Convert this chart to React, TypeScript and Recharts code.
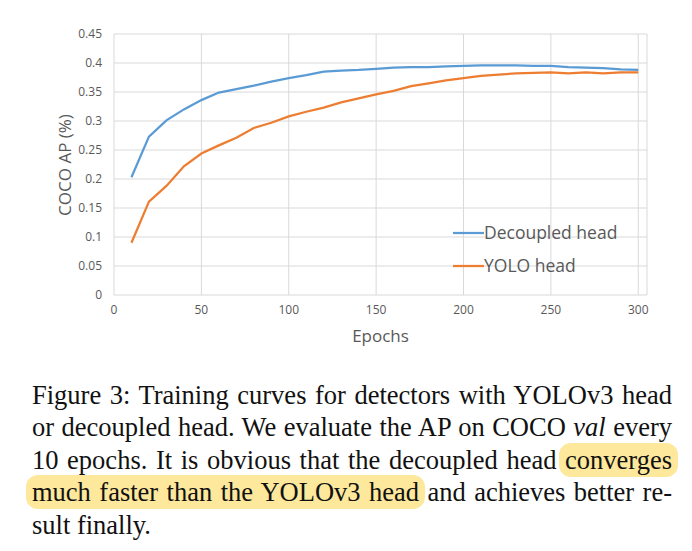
import { CartesianGrid, Label, Legend, Line, LineChart, XAxis, YAxis } from 'recharts';

const epochs = [
  10, 20, 30, 40, 50, 60, 70, 80, 90, 100, 110, 120, 130, 140, 150, 160, 170, 180, 190, 200,
  210, 220, 230, 240, 250, 260, 270, 280, 290, 300,
];

const decoupledHead = [
  0.203, 0.273, 0.301, 0.32, 0.336, 0.349, 0.355, 0.361, 0.368, 0.374, 0.379, 0.385, 0.387,
  0.388, 0.39, 0.392, 0.393, 0.393, 0.394, 0.395, 0.396, 0.396, 0.396, 0.395, 0.395, 0.393,
  0.392, 0.391, 0.389, 0.388,
];

const yoloHead = [
  0.09, 0.161, 0.188, 0.222, 0.244, 0.258, 0.271, 0.288, 0.297, 0.308, 0.316, 0.323, 0.332,
  0.339, 0.346, 0.352, 0.36, 0.365, 0.37, 0.374, 0.378, 0.38, 0.382, 0.383, 0.384, 0.382,
  0.384, 0.382, 0.384, 0.384,
];

const xTicks = [0, 50, 100, 150, 200, 250, 300];
const yTicks = [0, 0.05, 0.1, 0.15, 0.2, 0.25, 0.3, 0.35, 0.4, 0.45];

const seriesNames = ['Decoupled head', 'YOLO head'];
const seriesColors = ['#5b9bd5', '#ed7d31'];

const data = epochs.map((epoch, i) => ({
  epoch,
  decoupled: decoupledHead[i],
  yolo: yoloHead[i],
}));

const axisFont = '"Open Sans", "Noto Sans", sans-serif';
const tickStyle = { fill: '#595959', fontSize: 12, fontFamily: axisFont };

function LegendBox() {
  return (
    <div style={{ fontFamily: axisFont, fontSize: 17.5, color: '#595959' }}>
      {seriesNames.map((name, i) => (
        <div key={name} style={{ display: 'flex', alignItems: 'center', height: 33 }}>
          <svg width={31} height={4} style={{ display: 'block' }}>
            <line x1={0} y1={2} x2={31} y2={2} stroke={seriesColors[i]} strokeWidth={2.25} />
          </svg>
          <span style={{ lineHeight: '33px' }}>{name}</span>
        </div>
      ))}
    </div>
  );
}

const highlight = {
  background: '#fde89c',
  borderRadius: 12,
  padding: '2px 6px',
  margin: '0 -6px',
};

const justified = { textAlign: 'justify' as const, textAlignLast: 'justify' as const };

export default function App() {
  return (
    <div
      style={{
        position: 'absolute',
        left: 0,
        top: 0,
        width: 692,
        height: 551,
        background: '#fff',
        overflow: 'hidden',
      }}
    >
      <LineChart
        width={692}
        height={350}
        data={data}
        margin={{ top: 34, right: 45, bottom: 0, left: 0 }}
      >
        <CartesianGrid stroke="#d9d9d9" strokeWidth={1} />
        <XAxis
          dataKey="epoch"
          type="number"
          domain={[0, 305]}
          ticks={xTicks}
          axisLine={false}
          tickLine={false}
          tickSize={0}
          tickMargin={10}
          height={55}
          tick={tickStyle}
        >
          <Label
            value="Epochs"
            position="insideBottom"
            offset={8}
            style={{ fill: '#595959', fontSize: 17, fontFamily: axisFont }}
          />
        </XAxis>
        <YAxis
          type="number"
          domain={[0, 0.45]}
          ticks={yTicks}
          axisLine={false}
          tickLine={false}
          tickSize={0}
          tickMargin={12}
          width={114}
          tick={tickStyle}
          tickFormatter={(v) => String(v)}
        >
          <Label
            content={() => (
              <text
                x={64}
                y={165}
                transform="rotate(-90, 64, 165)"
                textAnchor="middle"
                dominantBaseline="central"
                fill="#595959"
                fontSize={17}
                fontFamily={axisFont}
              >
                COCO AP (%)
              </text>
            )}
          />
        </YAxis>
        <Legend
          layout="vertical"
          align="center"
          verticalAlign="middle"
          wrapperStyle={{ left: 453, top: 216, width: 'auto' }}
          content={() => <LegendBox />}
        />
        <Line
          dataKey="decoupled"
          name={seriesNames[0]}
          stroke={seriesColors[0]}
          strokeWidth={2.25}
          dot={false}
          type="linear"
          isAnimationActive={false}
        />
        <Line
          dataKey="yolo"
          name={seriesNames[1]}
          stroke={seriesColors[1]}
          strokeWidth={2.25}
          dot={false}
          type="linear"
          isAnimationActive={false}
        />
      </LineChart>

      <div
        style={{
          position: 'absolute',
          left: 32,
          top: 379,
          width: 640,
          fontFamily: '"Liberation Serif", "Times New Roman", serif',
          fontSize: 26.5,
          lineHeight: '32.4px',
          color: '#111',
        }}
      >
        <div style={justified}>Figure 3: Training curves for detectors with YOLOv3 head</div>
        <div style={justified}>
          or decoupled head. We evaluate the AP on COCO <i>val</i> every
        </div>
        <div style={justified}>
          10 epochs. It is obvious that the decoupled head <span style={highlight}>converges</span>
        </div>
        <div style={justified}>
          <span style={highlight}>much faster than the YOLOv3 head</span> and achieves better re-
        </div>
        <div>sult finally.</div>
      </div>
    </div>
  );
}
